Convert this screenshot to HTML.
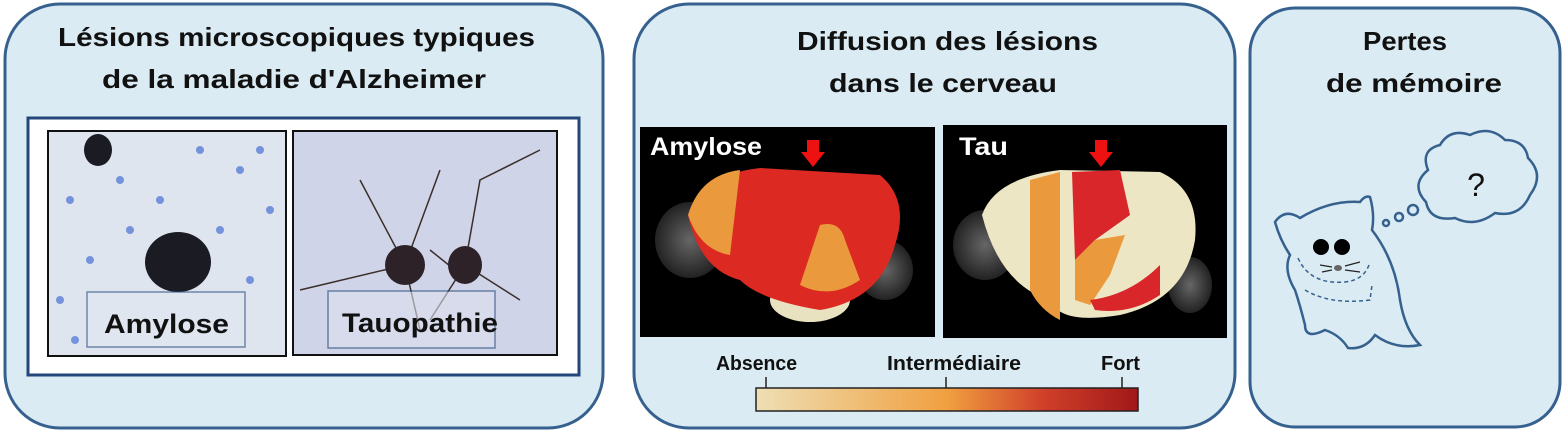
<!DOCTYPE html>
<html><head><meta charset="utf-8"><style>
html,body{margin:0;padding:0;background:#fff;}
svg{display:block;}
text{font-family:"Liberation Sans",sans-serif;font-weight:bold;}
</style></head><body>
<svg width="1565" height="431" viewBox="0 0 1565 431" xmlns="http://www.w3.org/2000/svg">
<defs>
<linearGradient id="cb" x1="0" x2="1">
<stop offset="0" stop-color="#eedfb4"/><stop offset="0.5" stop-color="#f0a040"/><stop offset="0.75" stop-color="#d0402a"/><stop offset="1" stop-color="#a01818"/>
</linearGradient>
<radialGradient id="gb"><stop offset="0" stop-color="#666"/><stop offset="1" stop-color="#222"/></radialGradient>
</defs>
<rect x="5" y="4" width="598" height="424" rx="55" fill="#daebf3" stroke="#36618f" stroke-width="3"/>
<rect x="634" y="4" width="601" height="424" rx="55" fill="#daebf3" stroke="#36618f" stroke-width="3"/>
<rect x="1250" y="8" width="310" height="419" rx="45" fill="#daebf3" stroke="#36618f" stroke-width="3"/>
<!-- panel 1 -->
<text x="58" y="46" font-size="26" textLength="477" lengthAdjust="spacingAndGlyphs" fill="#111">Lésions microscopiques typiques</text>
<text x="102" y="88" font-size="26" textLength="384" lengthAdjust="spacingAndGlyphs" fill="#111">de la maladie d'Alzheimer</text>
<rect x="28" y="118" width="551" height="257" fill="#fff" stroke="#23477a" stroke-width="3"/>
<rect x="48" y="131" width="238" height="225" fill="#dfe5ee" stroke="#111" stroke-width="2"/>
<g fill="#5a7fd8" opacity="0.8">
<circle cx="70" cy="200" r="4"/><circle cx="120" cy="180" r="4"/><circle cx="160" cy="200" r="4"/><circle cx="200" cy="150" r="4"/><circle cx="240" cy="170" r="4"/><circle cx="90" cy="260" r="4"/><circle cx="220" cy="230" r="4"/><circle cx="260" cy="150" r="4"/><circle cx="130" cy="230" r="4"/><circle cx="60" cy="300" r="4"/><circle cx="250" cy="280" r="4"/><circle cx="100" cy="150" r="4"/><circle cx="180" cy="250" r="4"/><circle cx="270" cy="210" r="4"/><circle cx="75" cy="340" r="4"/>
</g>
<ellipse cx="178" cy="262" rx="33" ry="30" fill="#1b1b24"/>
<ellipse cx="98" cy="150" rx="14" ry="16" fill="#1b1b24"/>
<rect x="87" y="292" width="158" height="55" fill="#e2e8f0" opacity="0.6" stroke="#23477a" stroke-width="1.5"/>
<text x="104" y="333" font-size="27" textLength="125" lengthAdjust="spacingAndGlyphs" fill="#111">Amylose</text>
<rect x="293" y="131" width="264" height="224" fill="#cfd4e8" stroke="#111" stroke-width="2"/>
<g stroke="#3a2e28" stroke-width="1.5" fill="none">
<path d="M405 265 L360 180 M405 265 L300 290 M405 265 L420 330 M405 265 L440 170 M465 265 L480 180 L540 150 M465 265 L520 300 M465 265 L430 320 M455 270 L430 250"/>
</g>
<ellipse cx="405" cy="265" rx="20" ry="20" fill="#2c2228"/>
<ellipse cx="465" cy="265" rx="17" ry="19" fill="#2c2228"/>
<rect x="328" y="291" width="167" height="57" fill="#dde0ee" opacity="0.6" stroke="#23477a" stroke-width="1.5"/>
<text x="342" y="332" font-size="27" textLength="156" lengthAdjust="spacingAndGlyphs" fill="#111">Tauopathie</text>
<!-- panel 2 -->
<text x="797" y="50" font-size="26" textLength="301" lengthAdjust="spacingAndGlyphs" fill="#111">Diffusion des lésions</text>
<text x="829" y="92" font-size="26" textLength="228" lengthAdjust="spacingAndGlyphs" fill="#111">dans le cerveau</text>
<rect x="640" y="127" width="295" height="210" fill="#000"/>
<ellipse cx="690" cy="240" rx="35" ry="38" fill="url(#gb)"/>
<ellipse cx="885" cy="270" rx="28" ry="30" fill="url(#gb)"/>
<ellipse cx="810" cy="300" rx="40" ry="22" fill="#e8e2c0"/>
<path d="M688 215 Q700 175 760 168 L880 175 Q910 200 895 245 Q880 300 820 310 Q760 300 740 280 Q700 270 688 215Z" fill="#dc2a22"/>
<path d="M688 215 Q700 175 740 170 L730 255 Q700 250 688 215Z" fill="#ea9a3c"/>
<path d="M820 225 Q840 220 845 240 L860 280 Q830 300 800 285Z" fill="#ea9a3c"/>
<path d="M807 140 h12 v12 h6 l-12 15 l-12 -15 h6z" fill="#ee1111"/>
<text x="650" y="155" font-size="25" textLength="112" lengthAdjust="spacingAndGlyphs" fill="#fff">Amylose</text>
<rect x="943" y="125" width="284" height="213" fill="#000"/>
<ellipse cx="985" cy="245" rx="32" ry="35" fill="url(#gb)"/>
<ellipse cx="1190" cy="285" rx="22" ry="28" fill="url(#gb)"/>
<path d="M982 215 Q995 178 1060 170 L1160 172 Q1200 190 1195 240 Q1185 300 1120 315 Q1060 325 1050 300 Q1000 285 982 215Z" fill="#ede6c4"/>
<path d="M1030 180 L1060 172 L1060 250 L1060 320 Q1040 310 1030 290Z" fill="#ea9a3c"/>
<path d="M1072 172 L1120 170 L1130 215 L1095 240 L1075 260Z" fill="#d8262a"/>
<path d="M1075 260 L1095 240 L1125 235 L1110 275 L1090 305 L1075 300Z" fill="#ea9a3c"/>
<path d="M1090 300 Q1130 295 1160 265 L1160 295 Q1130 315 1095 310Z" fill="#d8262a"/>
<path d="M1095 140 h12 v12 h6 l-12 15 l-12 -15 h6z" fill="#ee1111"/>
<text x="959" y="155" font-size="25" textLength="49" lengthAdjust="spacingAndGlyphs" fill="#fff">Tau</text>
<text x="716" y="370" font-size="20" textLength="81" lengthAdjust="spacingAndGlyphs" fill="#111">Absence</text>
<text x="887" y="370" font-size="20" textLength="134" lengthAdjust="spacingAndGlyphs" fill="#111">Intermédiaire</text>
<text x="1101" y="370" font-size="20" textLength="39" lengthAdjust="spacingAndGlyphs" fill="#111">Fort</text>
<g stroke="#222" stroke-width="1.5"><line x1="766" y1="377" x2="766" y2="388"/><line x1="946" y1="377" x2="946" y2="388"/><line x1="1122" y1="377" x2="1122" y2="388"/></g>
<rect x="756" y="388" width="382" height="23" fill="url(#cb)" stroke="#222" stroke-width="1.5"/>
<!-- panel 3 -->
<text x="1363" y="50" font-size="26" textLength="84" lengthAdjust="spacingAndGlyphs" fill="#111">Pertes</text>
<text x="1326" y="92" font-size="26" textLength="176" lengthAdjust="spacingAndGlyphs" fill="#111">de mémoire</text>
<g fill="#daebf3" stroke="#36618f" stroke-width="2.5">
<path d="M1428 170 Q1420 150 1440 145 Q1450 128 1470 135 Q1490 125 1505 140 Q1525 140 1528 158 Q1545 175 1530 195 Q1520 218 1495 213 Q1475 228 1455 218 Q1430 222 1426 202 Q1410 185 1428 170Z"/>
<circle cx="1413" cy="210" r="5"/><circle cx="1399" cy="217" r="4"/><circle cx="1386" cy="223" r="3"/>
<path d="M1275 222 Q1285 208 1300 218 Q1330 200 1360 202 Q1365 195 1370 197 Q1375 215 1372 230 Q1395 260 1400 300 Q1405 330 1420 345 Q1395 350 1375 335 Q1365 350 1348 348 Q1340 335 1325 330 Q1305 340 1305 325 Q1300 305 1295 290 Q1283 270 1290 255 Q1280 240 1275 222Z"/>
</g>
<text x="1476" y="196" font-size="32" text-anchor="middle" fill="#111" style="font-weight:normal">?</text>
<circle cx="1321" cy="247" r="8" fill="#000"/><circle cx="1342" cy="247" r="8" fill="#000"/>
<ellipse cx="1338" cy="268" rx="4" ry="3" fill="#666"/>
<g stroke="#222" stroke-width="1.2"><line x1="1320" y1="265" x2="1332" y2="267"/><line x1="1345" y1="266" x2="1360" y2="262"/><line x1="1345" y1="270" x2="1360" y2="272"/><line x1="1322" y1="272" x2="1332" y2="270"/></g>
<path d="M1298 258 Q1310 285 1345 282 Q1365 280 1370 262 M1305 290 Q1330 305 1370 300 L1372 285" fill="none" stroke="#36618f" stroke-width="1.5" stroke-dasharray="4 3"/>
</svg>
</body></html>
